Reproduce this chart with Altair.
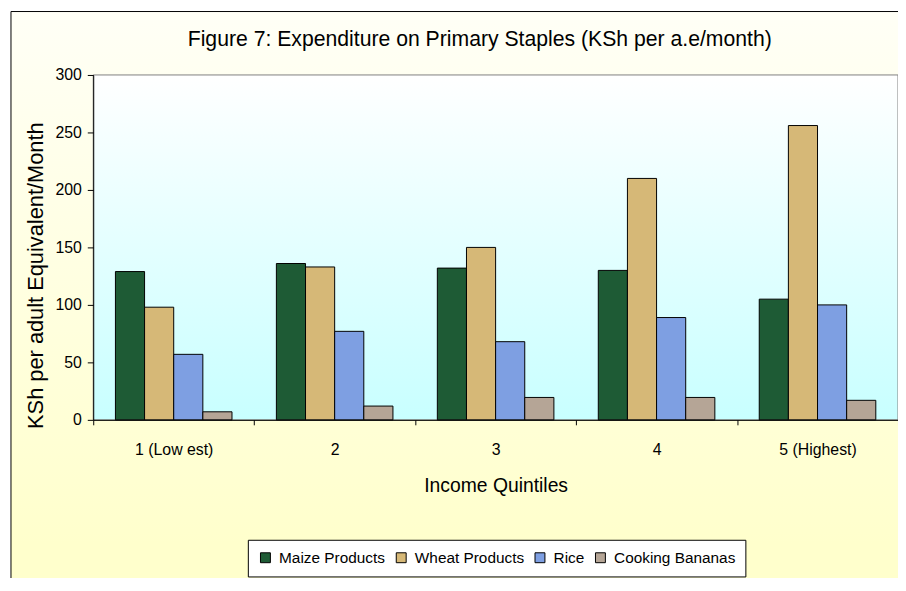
import altair as alt
import pandas as pd

quintiles = ["1 (Low est)", "2", "3", "4", "5 (Highest)"]
series = ["Maize Products", "Wheat Products", "Rice", "Cooking Bananas"]
maize = [129, 136, 132, 130, 105]
wheat = [98, 133, 150, 210, 256]
rice = [57, 77, 68, 89, 100]
bananas = [7, 12, 19.5, 19.5, 17]
colors = ["#1E5B35", "#D6B877", "#7E9FE2", "#B5A596"]

rows = []
for name, vals in zip(series, [maize, wheat, rice, bananas]):
    for q, v in zip(quintiles, vals):
        rows.append({"quintile": q, "series": name, "value": v})
df = pd.DataFrame(rows)

W, H = 812, 348
FONT = "Liberation Sans"

bg = alt.Chart(alt.Data(values=[{}])).mark_rect(
    fill=alt.Gradient(
        gradient="linear", x1=0, y1=0, x2=0, y2=1,
        stops=[alt.GradientStop(offset=0, color="#FFFFF6"),
               alt.GradientStop(offset=0.85, color="#FFFFCC"),
               alt.GradientStop(offset=1, color="#FFFFCC")],
    ),
    stroke="black", strokeWidth=1,
).encode(x=alt.value(-83), x2=alt.value(W + 20), y=alt.value(-64), y2=alt.value(H + 220))

plotbg = alt.Chart(alt.Data(values=[{}])).mark_rect(
    fill=alt.Gradient(
        gradient="linear", x1=0, y1=0, x2=0, y2=1,
        stops=[alt.GradientStop(offset=0, color="#FFFFFF"),
               alt.GradientStop(offset=1, color="#C8FFFF")],
    ),
    stroke="#808080", strokeWidth=1,
).encode(x=alt.value(0), x2=alt.value(W), y=alt.value(0), y2=alt.value(H))

bars = alt.Chart(df).mark_bar(stroke="black", strokeWidth=1, opacity=1).encode(
    x=alt.X(
        "quintile:N", sort=quintiles,
        scale=alt.Scale(paddingInner=0, paddingOuter=0),
        axis=alt.Axis(
            title="Income Quintiles", titleFont=FONT, titleFontSize=19.5,
            titleFontWeight="normal", titleColor="black", titleY=66,
            titleBaseline="middle",
            labelAngle=0, labelFont=FONT, labelFontSize=16, labelColor="black",
            labelPadding=17, tickSize=5, tickBand="extent", tickColor="black",
            domainColor="black", grid=False, zindex=1,
        ),
    ),
    xOffset=alt.XOffset(
        "series:N", sort=series,
        scale=alt.Scale(paddingInner=0, paddingOuter=0.762),
    ),
    y=alt.Y(
        "value:Q",
        scale=alt.Scale(domain=[0, 300], nice=False),
        axis=alt.Axis(
            values=[0, 50, 100, 150, 200, 250, 300],
            title="KSh per adult Equivalent/Month", titleFont=FONT, titleFontSize=22,
            titleFontWeight="normal", titleColor="black",
            titleX=-58, titleY=202, titleAngle=270, titleAlign="center",
            titleBaseline="middle",
            labelFont=FONT, labelFontSize=16, labelColor="black", labelPadding=6,
            tickSize=6, tickColor="black", domainColor="black", grid=False, zindex=1,
        ),
    ),
    color=alt.Color(
        "series:N", sort=series,
        scale=alt.Scale(domain=series, range=colors),
        legend=alt.Legend(
            orient="none", legendX=156, legendY=469, direction="horizontal",
            columns=4, title=None, symbolType="square", symbolSize=100,
            symbolStrokeColor="black", symbolStrokeWidth=1, symbolOpacity=1,
            labelFont=FONT, labelFontSize=15.5, labelColor="black",
            labelOffset=6, columnPadding=8, padding=10,
            fillColor="white", strokeColor="black", zindex=1,
        ),
    ),
    tooltip=["quintile:N", "series:N", "value:Q"],
)

chart = alt.layer(bg, plotbg, bars).properties(
    width=W, height=H,
    padding={"left": 86, "top": 65, "right": 0, "bottom": 157},
    autosize=alt.AutoSizeParams(type="none"),
    title=alt.TitleParams(
        text="Figure 7: Expenditure on Primary Staples (KSh per a.e/month)",
        font=FONT, fontSize=21.4, fontWeight="normal", color="black",
        anchor="middle", dx=-16, offset=18, dy=58, zindex=1,
    ),
).configure_view(stroke=None)

chart.save("out.html", embed_options={"renderer": "svg", "actions": False})
